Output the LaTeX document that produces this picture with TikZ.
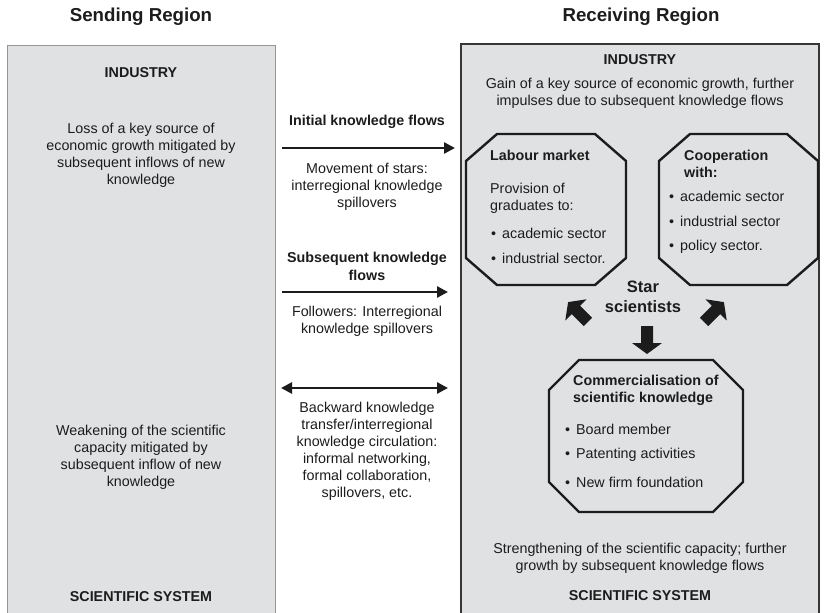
\documentclass[tikz,border=0pt]{standalone}
\usepackage{fontspec}
\setmainfont{Liberation Sans}
\usetikzlibrary{arrows.meta}

\definecolor{panel}{RGB}{224,225,227}
\definecolor{leftedge}{RGB}{150,150,150}
\definecolor{rightedge}{RGB}{55,55,55}
\definecolor{ink}{RGB}{28,28,28}

\tikzset{
  txt/.style={font=\fontsize{14.3}{17}\selectfont, text=ink, align=center, inner sep=0pt},
  hdr/.style={txt, font=\bfseries\fontsize{14.3}{17.5}\selectfont},
  regiontitle/.style={txt, font=\bfseries\fontsize{18.7}{22}\selectfont},
  lefttxt/.style={txt, anchor=west, align=left},
  lefthdr/.style={hdr, anchor=west, align=left},
  octoframe/.style={draw=ink, line width=2.4pt, line join=miter},
  flow/.style={draw=ink, line width=2.6pt, -{Triangle[length=11pt,width=11pt]}},
  twoflow/.style={draw=ink, line width=2.6pt,
    {Triangle[length=11pt,width=11pt]}-{Triangle[length=11pt,width=11pt]}},
  blockarrow/.pic={\fill[ink] (-14,-6) -- (3,-6) -- (3,-15) -- (14,0)
    -- (3,15) -- (3,6) -- (-14,6) -- cycle;}
}
\newcommand{\bul}{\textbullet\hspace{6pt}}
% octagon with cut corners: name, left, top, right, bottom, horizontal cut, vertical cut
\newcommand{\octobox}[7]{%
  \coordinate (#1) at ({(#2+#4)/2},{(#3+#5)/2});
  \draw[octoframe] ({#2+#6},#3) -- ({#4-#6},#3) -- (#4,{#3+#7}) -- (#4,{#5-#7})
    -- ({#4-#6},#5) -- ({#2+#6},#5) -- (#2,{#5-#7}) -- (#2,{#3+#7}) -- cycle;}

\begin{document}
\begin{tikzpicture}[x=1pt,y=-1pt]
\useasboundingbox (0,0) rectangle (825,613);
\clip (0,0) rectangle (825,613);

% region panels (open at the bottom)
\fill[panel] (7,45) rectangle (275,630);
\draw[leftedge, line width=0.9pt] (7,630) -- (7,45) -- (275,45) -- (275,630);
\fill[panel] (461,44) rectangle (819,630);
\draw[rightedge, line width=1.1pt] (461,630) -- (461,44) -- (819,44) -- (819,630);

% sending region
\node[regiontitle] (sendT) at (141,17) {Sending Region};
\node[hdr] (sendInd) at (141,73) {INDUSTRY};
\node[txt] (loss) at (141,155) {Loss of a key source of\\economic growth mitigated by\\subsequent inflows of new\\knowledge};
\node[txt] (weak) at (141,457) {Weakening of the scientific\\capacity mitigated by\\subsequent inflow of new\\knowledge};
\node[hdr] (sendSci) at (141,597) {SCIENTIFIC SYSTEM};

% knowledge flows between the regions
\node[hdr] (initT) at (367,122) {Initial knowledge flows};
\coordinate (f1a) at (282,148);
\coordinate (f1b) at (455,148);
\draw[flow] (f1a) -- (f1b);
\node[txt] (move) at (367,187) {Movement of stars:\\interregional knowledge\\spillovers};

\node[hdr] (subT) at (367,266.5) {Subsequent knowledge\\flows};
\coordinate (f2a) at (282,292);
\coordinate (f2b) at (448,292);
\draw[flow] (f2a) -- (f2b);
\node[txt] (foll) at (367,321.5) {Followers: Interregional\\knowledge spillovers};

\coordinate (f3a) at (281,388);
\coordinate (f3b) at (448,388);
\draw[twoflow] (f3a) -- (f3b);
\node[txt] (back) at (367,451.5) {Backward knowledge\\transfer/interregional\\knowledge circulation:\\informal networking,\\formal collaboration,\\spillovers, etc.};

% receiving region
\node[regiontitle] (recT) at (641,17) {Receiving Region};
\node[hdr] (recInd) at (640,60) {INDUSTRY};
\node[txt] (gain) at (640,93) {Gain of a key source of economic growth, further\\impulses due to subsequent knowledge flows};

% labour market
\octobox{labour}{466}{134}{626}{285}{31}{27}
\node[lefthdr] (labT) at (490,155) {Labour market};
\node[lefttxt] (labP) at (490,198.5) {Provision of\\graduates to:};
\node[lefttxt] (labB1) at (491,233) {\bul academic sector};
\node[lefttxt] (labB2) at (491,258) {\bul industrial sector.};

% cooperation
\octobox{coop}{659}{134}{818}{285}{31}{27}
\node[lefthdr] (coopT) at (684,164) {Cooperation\\with:};
\node[lefttxt] (coopB1) at (669,196) {\bul academic sector};
\node[lefttxt] (coopB2) at (669,221) {\bul industrial sector};
\node[lefttxt] (coopB3) at (669,247) {\bul policy sector.};

% star scientists and their channels
\node[txt, font=\bfseries\fontsize{16.5}{20}\selectfont] (star) at (643,297) {Star\\scientists};
\pic[rotate=135] at (578,312) {blockarrow};
\pic[rotate=45] at (714,312) {blockarrow};
\pic[rotate=-90] at (647,340) {blockarrow};

% commercialisation
\octobox{comm}{549}{360}{743}{512}{30}{30}
\node[lefthdr] (commT) at (573,390.5) {Commercialisation of\\scientific knowledge};
\node[lefttxt] (commB1) at (565,429) {\bul Board member};
\node[lefttxt] (commB2) at (565,455) {\bul Patenting activities};
\node[lefttxt] (commB3) at (565,482) {\bul New firm foundation};

\node[txt] (streng) at (640,558) {Strengthening of the scientific capacity; further\\growth by subsequent knowledge flows};
\node[hdr] (recSci) at (640,596) {SCIENTIFIC SYSTEM};
\end{tikzpicture}
\end{document}
